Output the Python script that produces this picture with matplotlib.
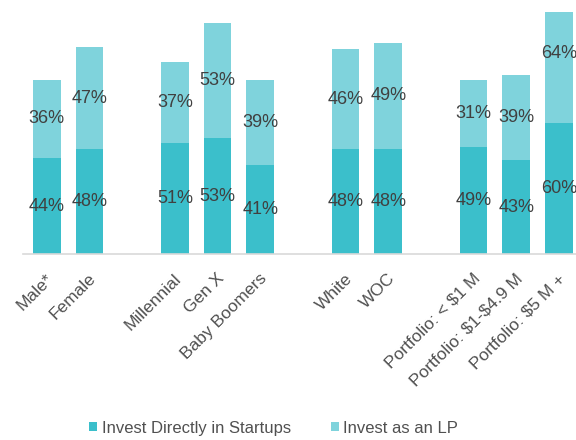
import numpy as np
import matplotlib.pyplot as plt

plt.rcParams["font.family"] = ["Liberation Sans", "DejaVu Sans"]

# bar slots; empty slots separate the groups
slots = [0, 1, 3, 4, 5, 7, 8, 10, 11, 12]
labels = ["Male*", "Female", "Millennial", "Gen X", "Baby Boomers",
          "White", "WOC", "Portfolio: < $1 M", "Portfolio: $1-$4.9 M",
          "Portfolio: $5 M +"]
direct = [44, 48, 51, 53, 41, 48, 48, 49, 43, 60]
as_lp = [36, 47, 37, 53, 39, 46, 49, 31, 39, 64]

DARK = "#3bbfcb"
LIGHT = "#7fd3dc"
TEXT = "#404040"
TICK_TEXT = "#505050"

fig = plt.figure(figsize=(5.76, 4.4), dpi=100)
ax = fig.add_axes([23 / 576, 1 - 254 / 440, 1 - 23 / 576, 242 / 440])

x = np.array(slots)
d = np.array(direct)
lp = np.array(as_lp)
ax.bar(x, d, width=0.65, color=DARK, label="Invest Directly in Startups")
ax.bar(x, lp, width=0.65, bottom=d, color=LIGHT, label="Invest as an LP")

for xi, a, b in zip(x, d, lp):
    ax.text(xi, a / 2, f"{a}%", ha="center", va="center", fontsize=13,
            color=TEXT, clip_on=False)
    ax.text(xi, a + b / 2, f"{b}%", ha="center", va="center", fontsize=13,
            color=TEXT, clip_on=False)

ax.set_xlim(-0.56, 12.4)
ax.set_ylim(0, 111)
ax.set_yticks([])
ax.set_xticks(x + 0.1)
# escape dollar signs so they are not read as mathtext
ax.set_xticklabels([s.replace("$", r"\$") for s in labels], rotation=45,
                   ha="right", va="center", rotation_mode="anchor",
                   fontsize=12.5, color=TICK_TEXT)
ax.tick_params(axis="x", length=0, pad=16)
for side in ["top", "right", "left"]:
    ax.spines[side].set_visible(False)
ax.spines["bottom"].set_color("#d9d9d9")
ax.spines["bottom"].set_linewidth(1.2)

fig.legend(loc="center", bbox_to_anchor=(0.475, 1 - 428 / 440), ncol=2,
           frameon=False, fontsize=12, handlelength=0.5, handleheight=0.5,
           handletextpad=0.25, columnspacing=2.4, labelcolor=TICK_TEXT)

fig.savefig("out.png", dpi=100)
